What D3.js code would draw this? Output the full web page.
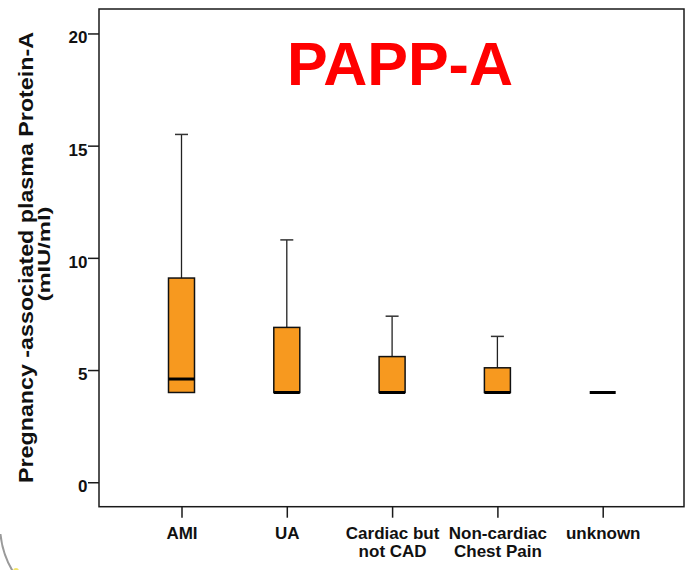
<!DOCTYPE html>
<html>
<head>
<meta charset="utf-8">
<script src="https://cdn.jsdelivr.net/npm/d3@7"></script>
<style>
  html, body { margin: 0; padding: 0; background: #fff; }
  svg { display: block; font-family: "Liberation Sans", Arial, Helvetica, sans-serif; }
</style>
</head>
<body>
<svg id="chart" width="692" height="570"></svg>
<script>
// Box-plot summaries of PAPP-A by diagnosis group (mIU/ml)
const categories = ["AMI", "UA", "Cardiac but\nnot CAD", "Non-cardiac\nChest Pain", "unknown"];
const whiskerLow  = [4.0, 4.0, 4.0, 4.0, 4.0];
const quartile1   = [4.0, 4.0, 4.0, 4.0, 4.0];
const medians     = [4.6, 4.0, 4.0, 4.0, 4.0];
const quartile3   = [9.1, 6.9, 5.6, 5.1, 4.0];
const whiskerHigh = [15.5, 10.8, 7.4, 6.5, 4.0];
const yTicks = [0, 5, 10, 15, 20];

const svg = d3.select("#chart");

const frame = { left: 99, right: 684, top: 9, bottom: 506.7 };

const y = d3.scaleLinear().domain([-1.09, 21.09]).range([frame.bottom, frame.top]);
const x = d3.scalePoint().domain(categories).range([181.5, 602.7]);

const boxW = 26, capW = 13;
const orange = "#f7991f";

// decorative arc in the lower-left corner
const arc = d3.arc().innerRadius(90).outerRadius(90)
  .startAngle(-Math.PI * 0.5 - 0.1).endAngle(-Math.PI * 0.5 - 1.05);
svg.append("path")
  .attr("d", arc())
  .attr("transform", "translate(90,525)")
  .attr("fill", "none").attr("stroke", "#9a9a9a").attr("stroke-width", 2);
svg.append("circle").attr("cx", 16).attr("cy", 571).attr("r", 3).attr("fill", "#f2e36a");

// plot frame
svg.append("rect")
  .attr("x", frame.left).attr("y", frame.top)
  .attr("width", frame.right - frame.left).attr("height", frame.bottom - frame.top)
  .attr("fill", "none").attr("stroke", "#1a1a1a").attr("stroke-width", 1.5);

// y axis
const yAxis = svg.append("g")
  .attr("transform", `translate(${frame.left},0)`)
  .call(d3.axisLeft(y).tickValues(yTicks).tickSize(11).tickPadding(2).tickFormat(d3.format("d")));
yAxis.select(".domain").remove();
yAxis.selectAll(".tick line").attr("stroke", "#1a1a1a").attr("stroke-width", 1.5);
yAxis.selectAll(".tick text")
  .attr("font-size", 17).attr("font-weight", "bold").attr("fill", "#111")
  .attr("dy", "0.55em").attr("x", -11.5);

// x axis
const xAxis = svg.append("g")
  .attr("transform", `translate(0,${frame.bottom})`)
  .call(d3.axisBottom(x).tickSize(11).tickFormat(""));
xAxis.select(".domain").remove();
xAxis.selectAll(".tick line").attr("stroke", "#1a1a1a").attr("stroke-width", 1.5);
xAxis.selectAll(".tick").each(function(d) {
  const t = d3.select(this).append("text")
    .attr("text-anchor", "middle")
    .attr("font-size", 17).attr("font-weight", "bold").attr("fill", "#111");
  d.split("\n").forEach((line, i) => {
    t.append("tspan").attr("x", 0).attr("y", 32.6 + i * 18).text(line);
  });
});

// boxes
const groups = svg.append("g").selectAll("g")
  .data(categories.map((c, i) => ({
    c, lo: whiskerLow[i], q1: quartile1[i], med: medians[i], q3: quartile3[i], hi: whiskerHigh[i]
  })))
  .join("g")
  .attr("transform", d => `translate(${x(d.c)},0)`);

groups.filter(d => d.hi > d.q3).append("line")
  .attr("x1", 0).attr("x2", 0)
  .attr("y1", d => y(d.q3)).attr("y2", d => y(d.hi))
  .attr("stroke", "#222").attr("stroke-width", 1.3);
groups.filter(d => d.hi > d.q3).append("line")
  .attr("x1", -capW / 2).attr("x2", capW / 2)
  .attr("y1", d => y(d.hi)).attr("y2", d => y(d.hi))
  .attr("stroke", "#333").attr("stroke-width", 1.5);
groups.filter(d => d.q1 > d.lo).append("line")
  .attr("x1", 0).attr("x2", 0)
  .attr("y1", d => y(d.q1)).attr("y2", d => y(d.lo))
  .attr("stroke", "#222").attr("stroke-width", 1.3);

groups.filter(d => d.q3 > d.q1).append("rect")
  .attr("x", -boxW / 2).attr("width", boxW)
  .attr("y", d => y(d.q3)).attr("height", d => y(d.q1) - y(d.q3))
  .attr("fill", orange).attr("stroke", "#111").attr("stroke-width", 1.5);

groups.append("line")
  .attr("x1", -boxW / 2).attr("x2", boxW / 2)
  .attr("y1", d => y(d.med)).attr("y2", d => y(d.med))
  .attr("stroke", "#000").attr("stroke-width", 3);

// title
svg.append("text")
  .attr("x", 400).attr("y", 85)
  .attr("text-anchor", "middle")
  .attr("font-size", 61).attr("font-weight", "bold").attr("fill", "#ff0000")
  .text("PAPP-A");

// y axis title, two lines
svg.append("text")
  .attr("transform", "rotate(-90)")
  .attr("x", -257.5).attr("y", 33.3)
  .attr("text-anchor", "middle")
  .attr("font-size", 21).attr("font-weight", "bold").attr("fill", "#111")
  .attr("textLength", 451).attr("lengthAdjust", "spacingAndGlyphs")
  .text("Pregnancy -associated plasma Protein-A");
svg.append("text")
  .attr("transform", "rotate(-90)")
  .attr("x", -254).attr("y", 49.5)
  .attr("text-anchor", "middle")
  .attr("font-size", 16.5).attr("font-weight", "bold").attr("fill", "#111")
  .attr("textLength", 95).attr("lengthAdjust", "spacingAndGlyphs")
  .text("(mIU/ml)");
</script>
</body>
</html>
